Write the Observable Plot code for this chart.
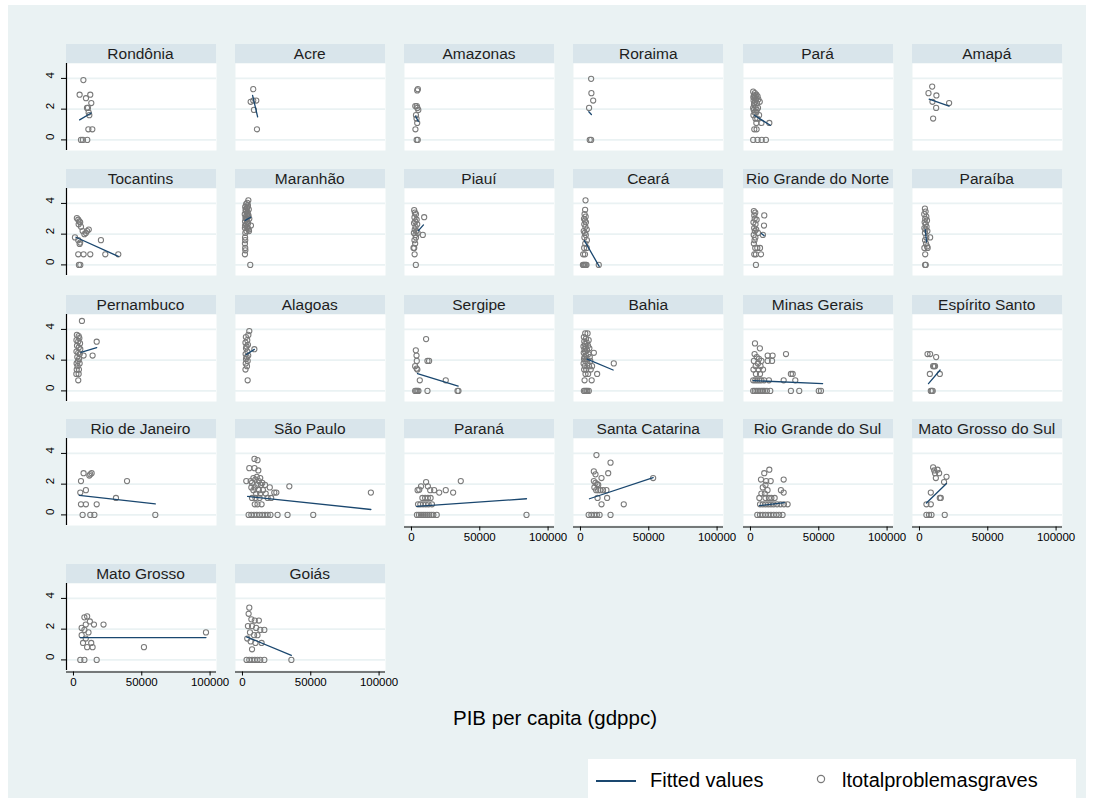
<!DOCTYPE html>
<html><head><meta charset="utf-8">
<script src="https://cdn.jsdelivr.net/npm/d3@7"></script>
<script src="https://cdn.jsdelivr.net/npm/@observablehq/plot@0.6"></script>
<style>
body{margin:0;background:#fff;}
#root{position:relative;width:1094px;height:798px;overflow:hidden;font-family:"Liberation Sans",Arial,sans-serif;}
#bg{position:absolute;left:8px;top:5px;width:1078px;height:793px;background:#eaf2f3;}
.hdr{position:absolute;height:19px;line-height:19px;background:#d9e5eb;text-align:center;font-size:15.5px;color:#1e1e1e;white-space:nowrap;}
.pn{position:absolute;}
#xtitle{position:absolute;left:0;width:1110px;top:706px;text-align:center;font-size:20.5px;color:#000;}
#legend{position:absolute;left:588px;top:759px;width:488px;height:39px;background:#fff;}
</style></head><body>
<div id="root"><div id="bg"></div><div id="xtitle">PIB per capita (gdppc)</div>
<div id="legend">
<svg width="488" height="39" style="position:absolute;left:0;top:0">
<line x1="8" x2="48" y1="22" y2="22" stroke="#1a476f" stroke-width="2"/>
<circle cx="233" cy="20" r="3.6" fill="none" stroke="#7a7a7a" stroke-width="1.2"/>
</svg>
<div style="position:absolute;left:62px;top:10px;font-size:20px;color:#000">Fitted values</div>
<div style="position:absolute;left:254px;top:10px;font-size:20px;color:#000">ltotalproblemasgraves</div>
</div>
</div>
<script>
const states = ["Rondônia","Acre","Amazonas","Roraima","Pará","Amapá",
 "Tocantins","Maranhão","Piauí","Ceará","Rio Grande do Norte","Paraíba",
 "Pernambuco","Alagoas","Sergipe","Bahia","Minas Gerais","Espírito Santo",
 "Rio de Janeiro","São Paulo","Paraná","Santa Catarina","Rio Grande do Sul","Mato Grosso do Sul",
 "Mato Grosso","Goiás"];

const rondonia = [[7260,3.89],[4500,2.94],[9150,2.71],[12300,2.94],[13050,2.4],[9900,2.08],[10600,2.08],[11100,1.79],[11600,1.61],[10900,0.69],[13800,0.69],[5500,0],[6900,0],[10100,0]];
const acre = [[7900,3.3],[6000,2.48],[7900,2.56],[10100,2.56],[8400,1.95],[10600,0.69]];
const amazonas = [[4200,3.22],[4700,3.3],[2800,2.2],[3900,2.2],[4300,2.08],[5000,1.95],[3300,1.61],[3700,1.39],[4200,1.1],[2900,0.69],[3800,0],[4600,0]];
const roraima = [[7800,3.97],[8000,3.04],[9300,2.56],[6300,2.08],[6800,0],[7800,0]];
const para = [[2000,3.14],[3200,3.04],[4300,2.94],[2500,2.89],[3600,2.83],[5200,2.83],[2100,2.77],[3000,2.71],[4100,2.64],[5800,2.64],[2300,2.56],[3500,2.48],[6800,2.48],[2900,2.4],[4700,2.4],[2600,2.3],[2000,2.08],[3800,2.08],[5500,2.08],[2400,1.95],[4600,1.95],[3100,1.79],[4200,1.79],[6300,1.61],[2200,1.61],[3600,1.39],[5000,1.39],[8000,1.1],[4300,1.1],[13800,1.1],[2800,0.69],[4500,0.69],[2000,0],[5200,0],[8200,0],[11300,0]];
const amapa = [[9300,3.47],[6600,3.04],[12400,2.89],[9500,2.48],[21700,2.4],[12200,2.08],[10000,1.39]];
const tocantins = [[2500,3.04],[3500,2.94],[4300,2.83],[4900,2.77],[3800,2.64],[5500,2.48],[6700,2.2],[9100,2.08],[11200,2.3],[10000,2.2],[8000,2.0],[1100,1.79],[3500,1.61],[4900,1.45],[4500,1.36],[20100,1.61],[3500,0.69],[7400,0.69],[12300,0.69],[23300,0.69],[32800,0.69],[4000,0],[5000,0]];
const maranhao = [[4300,4.2],[3500,4.04],[2700,3.95],[4000,3.87],[2000,3.78],[3300,3.69],[4600,3.61],[2400,3.5],[2800,3.5],[3800,3.4],[1700,3.3],[3600,3.3],[3000,3.22],[4200,3.14],[2200,3.09],[5000,3.0],[2500,3.0],[3100,2.94],[1900,2.83],[3300,2.77],[4100,2.71],[2600,2.64],[6200,2.56],[3500,2.48],[1800,2.4],[4500,2.3],[2900,2.2],[4800,2.2],[2100,2.08],[3700,3.78],[2300,3.61],[4400,3.22],[1900,2.56],[3900,2.4],[1900,1.79],[2000,1.61],[1800,1.39],[2000,1.1],[2100,0.95],[1800,0.69],[5700,0]];
const piaui = [[2000,3.56],[2500,3.4],[3300,3.3],[9300,3.1],[2200,3.09],[3800,2.94],[2800,2.83],[1900,2.71],[4200,2.64],[3000,2.48],[2400,2.3],[3600,2.2],[4500,2.08],[1800,2.08],[8300,1.95],[2900,1.95],[3300,1.79],[2200,1.61],[2700,1.39],[1500,1.1],[2000,1.1],[2300,0.69],[3200,0]];
const ceara = [[3700,4.2],[3400,3.58],[3000,3.3],[3800,3.14],[2600,3.0],[3300,2.89],[4000,2.77],[2800,2.64],[3600,2.48],[4600,2.3],[2400,2.2],[3200,2.08],[3900,1.95],[2900,1.79],[4700,1.61],[3500,1.39],[2700,1.1],[4600,1.1],[3300,0.69],[2000,0.69],[1800,0],[2500,0],[3100,0],[3800,0],[4400,0],[13400,0]];
const rioGrandeNorte = [[2500,3.5],[3500,3.4],[2800,3.22],[10100,3.22],[3100,3.0],[4500,2.94],[2200,2.77],[3700,2.64],[9900,2.56],[2700,2.4],[4200,2.3],[3200,2.2],[5500,2.08],[9100,1.95],[2400,1.95],[3600,1.79],[3000,1.61],[2500,1.39],[3500,1.1],[5000,1.1],[7000,1.1],[2800,0.69],[4000,0.69],[7700,0.69],[4000,0]];
const paraiba = [[4000,3.66],[4500,3.47],[3500,3.3],[5000,3.14],[4200,3.0],[5500,2.89],[3800,2.77],[4600,2.64],[5200,2.48],[3600,2.4],[4400,2.3],[5800,2.2],[4000,2.08],[7800,1.79],[5000,1.79],[4100,1.61],[4800,1.39],[5600,1.2],[6000,1.1],[3600,1.1],[4200,0.69],[4100,0],[4600,0]];
const pernambuco = [[6200,4.55],[2500,3.64],[3800,3.56],[4300,3.43],[2200,3.3],[3500,3.22],[17000,3.2],[4800,3.09],[2600,2.94],[3900,2.83],[5000,2.71],[2200,2.56],[3500,2.48],[4600,2.4],[7400,2.3],[14000,2.3],[2800,2.2],[4100,2.08],[3300,1.95],[2300,1.79],[4500,1.79],[3000,1.61],[2400,1.39],[4000,1.39],[2100,1.1],[3800,1.1],[3500,0.69]];
const alagoas = [[5000,3.89],[4300,3.64],[2500,3.5],[3500,3.3],[2200,3.14],[4000,3.0],[3000,2.89],[8700,2.71],[2600,2.77],[3600,2.56],[2300,2.4],[4200,2.3],[3100,2.2],[2600,2.08],[3800,1.95],[2400,1.79],[3300,1.61],[2200,1.39],[3800,0.69]];
const sergipe = [[10700,3.37],[3200,2.64],[3700,2.3],[3900,1.95],[11700,1.95],[12900,1.95],[2700,1.61],[3800,1.45],[4300,1.39],[6100,0.69],[25100,0.69],[2700,0],[3500,0],[4300,0],[5100,0],[11700,0],[33700,0],[34400,0]];
const bahia = [[3500,3.74],[5200,3.74],[2500,3.5],[4000,3.4],[6000,3.3],[2800,3.22],[4600,3.14],[3300,3.04],[5500,2.94],[2200,2.89],[3900,2.83],[6500,2.77],[2900,2.71],[4800,2.64],[3400,2.56],[9800,2.48],[2400,2.48],[5900,2.4],[4100,2.3],[3000,2.2],[6800,2.2],[2600,2.08],[4500,2.08],[7200,1.95],[3500,1.95],[2300,1.79],[5100,1.79],[8500,1.61],[3200,1.61],[6300,1.61],[4200,1.39],[2700,1.39],[7500,1.39],[3700,1.1],[5600,1.1],[12200,1.1],[24400,1.79],[3000,0.69],[8200,0.69],[2500,0],[3400,0],[4300,0],[5000,0],[6100,0]];
const minasGerais = [[3300,3.09],[6900,2.77],[12600,2.3],[16200,2.3],[26000,2.4],[3000,2.4],[4600,2.2],[6200,2.08],[8000,1.95],[2500,1.95],[12600,1.95],[15800,1.95],[5500,1.79],[3800,1.61],[7400,1.61],[2200,1.39],[6000,1.39],[9200,1.39],[4000,1.1],[7000,1.1],[29600,1.1],[30900,1.1],[2000,0.69],[3500,0.69],[5000,0.69],[6500,0.69],[8000,0.69],[10000,0.69],[13500,0.69],[24300,0.69],[32800,0.69],[2000,0],[3200,0],[4400,0],[5600,0],[6800,0],[8000,0],[9200,0],[10500,0],[12000,0],[14500,0],[29600,0],[35700,0],[50000,0],[51600,0]];
const espiritoSanto = [[5900,2.4],[7800,2.4],[12200,2.2],[10000,1.61],[10700,1.61],[11400,1.61],[7600,1.1],[14900,1.1],[8300,0],[9000,0],[9700,0]];
const rioJaneiro = [[7400,2.71],[12300,2.64],[13300,2.71],[11600,2.56],[5500,2.2],[39200,2.2],[9100,1.61],[5000,1.45],[31100,1.1],[5500,0.69],[9100,0.69],[17000,0.69],[6700,0],[12300,0],[15300,0],[59900,0]];
const saoPaulo = [[8800,3.64],[11000,3.56],[5000,3.04],[8800,3.04],[11600,2.89],[2800,2.2],[6000,2.2],[8000,2.4],[10500,2.48],[13000,2.4],[9500,2.3],[12000,2.2],[14500,2.08],[7000,2.08],[11000,1.95],[13500,1.95],[16500,1.95],[6500,1.79],[9000,1.79],[12000,1.61],[15000,1.61],[20000,1.79],[8000,1.61],[10000,1.39],[13000,1.39],[17000,1.39],[23300,1.45],[24800,1.45],[34300,1.86],[94000,1.45],[7000,1.1],[9500,1.1],[12500,1.1],[18400,1.1],[21000,1.1],[9000,0.69],[11000,0.69],[14000,0.69],[4500,0],[6500,0],[8500,0],[10500,0],[12500,0],[14500,0],[16500,0],[18500,0],[20500,0],[25700,0],[33000,0],[51800,0]];
const parana = [[10700,2.14],[7000,1.86],[12000,1.86],[5700,1.64],[13700,1.61],[16600,1.61],[20300,1.45],[25100,1.61],[30500,1.45],[36100,2.2],[4500,1.61],[8000,1.1],[10000,1.1],[12000,1.1],[14000,1.1],[4800,0.69],[6500,0.69],[8500,0.69],[10500,0.69],[12500,0.69],[15000,0.69],[4000,0],[5500,0],[7000,0],[8500,0],[10000,0],[11500,0],[13000,0],[14500,0],[16000,0],[18500,0],[84200,0]];
const santaCatarina = [[11700,3.89],[22000,3.4],[9800,2.83],[20300,2.71],[11000,2.64],[15400,2.4],[9800,2.2],[11000,2.08],[12300,2.0],[13000,1.95],[10200,1.79],[11500,1.61],[13000,1.61],[14500,1.61],[16500,1.61],[19000,1.61],[53200,2.4],[19500,1.1],[12500,1.1],[15400,0.69],[31700,0.69],[6000,0],[8000,0],[10000,0],[12000,0],[14000,0],[22000,0]];
const rioGrandeSul = [[13800,2.94],[10100,2.71],[7700,2.3],[24300,2.3],[11500,2.2],[14800,2.2],[11000,1.95],[9000,1.79],[12500,1.61],[22300,1.61],[24300,1.45],[8000,1.39],[10500,1.39],[6500,1.1],[11000,1.1],[13500,1.1],[15300,1.1],[17700,1.1],[7000,0.69],[9000,0.69],[11000,0.69],[13000,0.69],[15000,0.69],[17000,0.69],[19500,0.69],[22000,0.69],[24500,0.69],[27200,0.69],[5000,0],[7000,0],[9000,0],[11000,0],[13000,0],[15000,0],[17000,0],[19000,0],[21000,0],[23500,0]];
const matoGrossoSul = [[10000,3.09],[10800,2.89],[13200,2.94],[11400,2.71],[14400,2.71],[19800,2.48],[12000,2.4],[18000,2.14],[8300,1.45],[14900,1.1],[15600,1.1],[5100,0.69],[8300,0.69],[5100,0],[7000,0],[8800,0],[18500,0]];
const matoGrosso = [[8000,2.77],[10000,2.83],[12000,2.5],[9000,2.3],[6000,2.08],[15000,2.3],[22000,2.3],[8000,1.95],[11000,1.79],[6000,1.61],[9000,1.39],[7000,1.1],[13000,1.1],[10000,0.83],[14000,0.83],[51600,0.83],[97000,1.79],[5000,0],[8000,0],[17000,0]];
const goias = [[5000,3.4],[4500,3.0],[6500,2.64],[9000,2.56],[12000,2.56],[4000,2.2],[7000,2.2],[10000,2.08],[13000,1.95],[16000,1.95],[5500,1.79],[8500,1.61],[11000,1.61],[3500,1.39],[6000,1.2],[9500,1.1],[14000,1.1],[7000,0.69],[3000,0],[5000,0],[7000,0],[9000,0],[11000,0],[13000,0],[16000,0],[35800,0]];

const statePoints = [rondonia,acre,amazonas,roraima,para,amapa,tocantins,maranhao,piaui,ceara,rioGrandeNorte,paraiba,
 pernambuco,alagoas,sergipe,bahia,minasGerais,espiritoSanto,rioJaneiro,saoPaulo,parana,santaCatarina,rioGrandeSul,matoGrossoSul,matoGrosso,goias];

// fitted values: endpoints of each state's regression line
const fitX1 = [4500,7400,3000,6100,2800,7100, 1800,2000,5100,2900,8000,4200, 5500,2600,4400,4900,2000,6600, 4300,3800,3900,6600,6500,5100, 5000,3000];
const fitY1 = [1.3,2.9,1.55,1.83,1.6,2.65, 1.8,2.9,2.23,1.58,2.05,2.3, 2.5,2.35,1.13,2.07,0.67,0.47, 1.27,1.2,0.55,1.05,0.6,0.77, 1.45,1.5];
const fitX2 = [13000,11100,5000,8000,14500,21700, 32800,6000,8800,13700,10000,5200, 17000,8700,34200,23900,52800,15100, 59900,94000,84200,53200,24800,19800, 97000,35800];
const fitY2 = [1.75,1.5,1.2,1.65,0.95,2.2, 0.55,3.1,2.6,-0.1,1.9,1.5, 2.82,2.7,0.31,1.36,0.47,1.36, 0.72,0.35,1.05,2.43,0.8,2.04, 1.45,0.3];

const yTicks = [0, 2, 4];
const xTicks = [0, 50000, 100000];
const xDomain = [-5100, 104700];
const yDomain = [-0.69, 4.97];

const ncol = 6;
const colLeft = c => 65.5 + 169.25 * c;
const rowTops = [44.3, 169, 295, 419.3, 564];
const frameW = 150, frameH = 87, hdrH = 19;
const ml = 32, mr = 26, mb = 26;
const root = document.getElementById("root");

states.forEach((name, i) => {
  const r = Math.floor(i / ncol), c = i % ncol;
  const left = colLeft(c), top = rowTops[r];
  const hasY = c === 0;
  const hasX = (r === 3 && c >= 2) || r === 4;
  const pts = statePoints[i].map(([x, y]) => ({x, y}));
  const fit = [{x: fitX1[i], y: fitY1[i]}, {x: fitX2[i], y: fitY2[i]}];
  const marks = [
    Plot.frame({fill: "white", stroke: null}),
    Plot.gridY(yTicks, {stroke: "#eaf2f3", strokeOpacity: 1, strokeWidth: 1.6}),
    Plot.dot(pts, {x: "x", y: "y", r: 2.6, stroke: "#7a7a7a", strokeWidth: 1.05, fill: "none"}),
    Plot.line(fit, {x: "x", y: "y", stroke: "#1a476f", strokeWidth: 1.3})
  ];
  if (hasY) {
    marks.push(Plot.axisY({ticks: yTicks, tickSize: 5, tickFormat: () => "", label: null, stroke: "#000"}));
    marks.push(Plot.text(yTicks, {y: d => d, text: d => String(d), frameAnchor: "left", rotate: -90, dx: -16.5, fontSize: 11.5, fill: "#000"}));
    marks.push(Plot.ruleX([xDomain[0]], {stroke: "#000", strokeWidth: 1.2}));
  }
  if (hasX) {
    marks.push(Plot.ruleY([yDomain[0]], {stroke: "#000", strokeWidth: 1.2, dy: 1.5}));
    marks.push(Plot.axisX({ticks: xTicks, tickSize: 4, tickPadding: 2, tickFormat: d => String(d), label: null, fontSize: 11.5, stroke: "#000", fill: "#000", dy: 1.5}));
  }
  const svg = Plot.plot({
    width: ml + frameW + mr, height: frameH + mb,
    marginLeft: ml, marginRight: mr, marginTop: 0, marginBottom: mb,
    x: {domain: xDomain, axis: null},
    y: {domain: yDomain, axis: null},
    style: {background: "transparent", fontFamily: "'Liberation Sans', Arial, sans-serif", overflow: "visible"},
    marks
  });
  const wrap = document.createElement("div");
  wrap.className = "pn";
  wrap.style.left = (left - ml) + "px";
  wrap.style.top = (top + hdrH) + "px";
  wrap.appendChild(svg);
  root.appendChild(wrap);
  const hdr = document.createElement("div");
  hdr.className = "hdr";
  hdr.style.left = left + "px";
  hdr.style.top = top + "px";
  hdr.style.width = frameW + "px";
  hdr.textContent = name;
  root.appendChild(hdr);
});
</script>
</body></html>
